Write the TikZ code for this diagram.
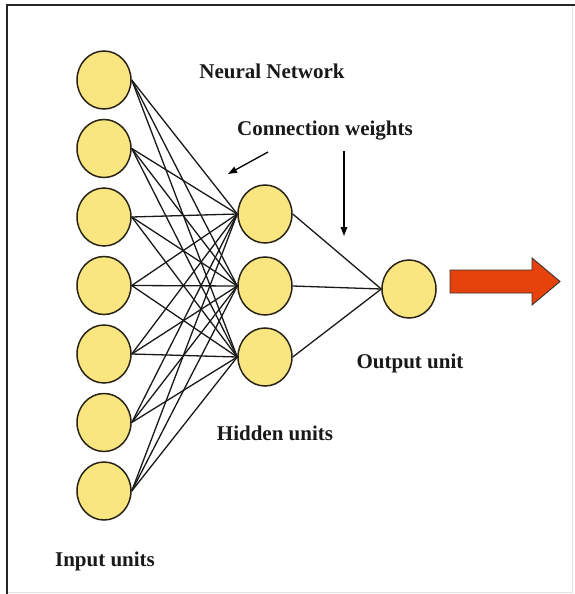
\documentclass[tikz,border=0pt]{standalone}
\usepackage{fontspec}
\setmainfont{Liberation Serif}
\usetikzlibrary{arrows.meta,shapes.geometric}
\definecolor{unitfill}{RGB}{250,230,128}
\definecolor{unitline}{RGB}{40,35,20}
\definecolor{outarrow}{RGB}{230,66,12}
\tikzset{
  unit/.style={ellipse, draw=unitline, line width=1.5pt, fill=unitfill,
    minimum width=54pt, minimum height=58pt, inner sep=0pt},
  weight/.style={line width=1.3pt, black!90},
  caption/.style={font=\fontsize{21}{25}\selectfont\bfseries, text=black!90},
  pointer/.style={line width=1.3pt, -{Triangle[length=9pt,width=6.5pt]}},
}
\begin{document}
\begin{tikzpicture}[x=1pt,y=-1pt]
  \useasboundingbox (0,0) rectangle (575,594);
  \fill[white] (0,0) rectangle (575,594);
  % frame
  \draw[line width=0.8pt, black!12] (572,5.5) -- (572,592.5) -- (6.5,592.5);
  \draw[line width=2pt, black!85] (6.5,594) -- (6.5,5.5) -- (575,5.5);

  % input layer
  \foreach \i/\y in {1/80,2/148.5,3/217,4/285.5,5/354,6/422.5,7/491}
    \node[unit] (in\i) at (104,\y) {};
  % hidden layer
  \foreach \j/\y in {1/214,2/286,3/357}
    \node[unit] (hid\j) at (265,\y) {};
  % output unit
  \node[unit] (out) at (409,289) {};

  % weights
  \foreach \i in {1,...,7}
    \foreach \j in {1,2,3}
      \draw[weight] (in\i.east) -- (hid\j.west);
  \foreach \j in {1,2,3}
    \draw[weight] (hid\j.east) -- (out.west);

  % block arrow leaving the output unit
  \coordinate (tail) at (450,281.5);
  \coordinate (tip) at (560,281.5);
  \draw[line width=0.9pt, draw=black!80, fill=outarrow, line join=miter]
    (tail |- 0,270) -- (532,270) -- (532,258) -- (tip)
    -- (532,305) -- (532,293) -- (tail |- 0,293) -- cycle;

  % labels
  \node[caption] (title) at (272,71) {Neural Network};
  \node[caption] (cw) at (325,131) {Connection weights};
  \node[caption] (outlbl) at (410,363) {Output unit};
  \node[caption] (hidlbl) at (275,433) {Hidden units};
  \node[caption] (inlbl) at (105,561) {Input units};

  % pointers to the weights
  \coordinate (p1s) at (268,152);
  \coordinate (p1e) at (228,174);
  \coordinate (p2s) at (344,151);
  \coordinate (p2e) at (344,236);
  \draw[pointer] (p1s) -- (p1e);
  \draw[pointer] (p2s) -- (p2e);
\end{tikzpicture}
\end{document}
